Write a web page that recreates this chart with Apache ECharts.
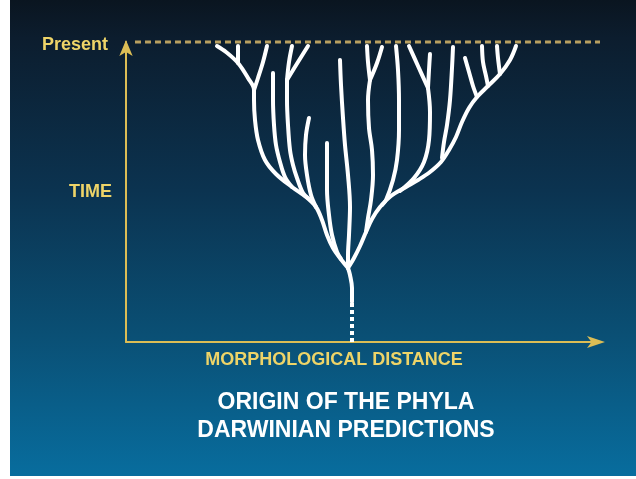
<!DOCTYPE html>
<html>
<head>
<meta charset="utf-8">
<script src="https://cdn.jsdelivr.net/npm/echarts@6/dist/echarts.min.js"></script>
<style>
  html, body { margin: 0; padding: 0; background: #fff; }
  #chart { position: absolute; left: 10px; top: 0; width: 626px; height: 476px; }
</style>
</head>
<body>
<div id="chart"></div>
<script>
// time axis ticks (0 = origin, 300 = present)
const timeTicks = [0, 150, 300];
const timeLabels = ['', 'TIME', 'Present'];
const xName = 'MORPHOLOGICAL DISTANCE';
const titleLines = ['ORIGIN OF THE PHYLA', 'DARWINIAN PREDICTIONS'];

// present level, [distance, time]
const presentLine = [[9, 300], [474, 300]];

// the tree, branch by branch, [distance, time]
const trunkDotted = [[226, 0], [226, 40]];
const trunk = [[226, 40], [226, 54], [224, 67], [222, 74]];
const stemLeft = [[222, 74], [214, 84], [207, 94], [201, 107], [196, 122], [190, 135], [180, 145], [166, 155],
  [150, 168], [139, 182], [132, 202], [129, 222], [128, 242], [128, 252], [122, 264], [112, 279], [100, 290], [91, 296]];
const leftTip1 = [[112, 296], [112, 287], [112, 279]];
const leftTip2 = [[141, 296], [137, 280], [132, 264], [128, 252]];
const branchA = [[147, 269], [147, 242], [148, 217], [150, 197], [154, 180], [159, 165], [166, 155]];
const branchBtip1 = [[166, 296], [163, 280], [161, 262]];
const branchBtip2 = [[182, 296], [172, 280], [161, 262]];
const branchB = [[161, 262], [161, 242], [162, 217], [164, 192], [167, 177], [171, 164], [177, 149], [182, 144]];
const branchC = [[183, 224], [180, 207], [179, 187], [181, 167], [185, 147], [190, 135]];
const branchD = [[201, 199], [201, 177], [201, 152], [203, 127], [206, 107], [211, 90], [215, 83]];
const branchE = [[214, 282], [215, 257], [217, 224], [219, 197], [222, 167], [224, 135], [223, 107], [222, 87], [222, 74]];
const stemRight = [[222, 74], [228, 84], [234, 96], [240, 110], [246, 123], [254, 135], [265, 146], [280, 155],
  [292, 162], [304, 170], [315, 180], [323, 192], [330, 205], [336, 220], [343, 234], [351, 245], [362, 256],
  [374, 268], [384, 282], [390, 296]];
const branchFtip1 = [[241, 296], [242, 280], [244, 262]];
const branchFtip2 = [[256, 295], [251, 279], [244, 262]];
const branchF = [[244, 262], [242, 242], [243, 214], [246, 192], [247, 167], [245, 142], [242, 124], [240, 110]];
const branchH = [[270, 296], [272, 272], [273, 242], [273, 212], [271, 182], [267, 162], [260, 142], [256, 137]];
const branchGtip1 = [[283, 296], [292, 276], [302, 254]];
const branchGtip2 = [[304, 288], [303, 272], [302, 254]];
const branchG = [[302, 254], [304, 230], [303, 202], [298, 180], [288, 164], [274, 151]];
const branchI = [[327, 295], [326, 274], [324, 242], [321, 217], [318, 200], [316, 184]];
const branchJ = [[339, 284], [343, 270], [347, 256], [351, 245]];
const branchK = [[356, 296], [357, 280], [360, 266], [362, 256]];
const branchL = [[371, 296], [372, 284], [374, 268]];

const branches = [trunk, stemLeft, leftTip1, leftTip2, branchA, branchBtip1, branchBtip2, branchB,
  branchC, branchD, branchE, stemRight, branchFtip1, branchFtip2, branchF, branchH,
  branchGtip1, branchGtip2, branchG, branchI, branchJ, branchK, branchL];

const gold = '#eed468';
const font = "'Liberation Sans', Arial, sans-serif";

let chart = echarts.init(document.getElementById('chart'));

let series = branches.map(function (b) {
  return {
    type: 'line', data: b, smooth: 0.35, symbol: 'none', silent: true, clip: false,
    lineStyle: { color: '#ffffff', width: 4, cap: 'round', join: 'round' }
  };
});
series.push({
  type: 'line', data: trunkDotted, symbol: 'none', silent: true, clip: false,
  lineStyle: { color: '#ffffff', width: 4, type: [4, 3], cap: 'butt' }
});
series.push({
  type: 'line', data: presentLine, symbol: 'none', silent: true, clip: false,
  lineStyle: { color: '#b9a060', width: 3, type: [6, 4], cap: 'butt' }
});

let option = {
  animation: false,
  backgroundColor: {
    type: 'linear', x: 0, y: 0, x2: 0, y2: 1,
    colorStops: [
      { offset: 0, color: '#0a1520' },
      { offset: 0.08, color: '#0c1d2e' },
      { offset: 0.4, color: '#0b3350' },
      { offset: 0.7, color: '#0a4f74' },
      { offset: 1, color: '#086d9e' }
    ]
  },
  title: {
    text: titleLines.join('\n'),
    left: 331, top: 384, textAlign: 'center',
    textStyle: { color: '#ffffff', fontSize: 23, fontWeight: 'bold', lineHeight: 28, fontFamily: font }
  },
  grid: { left: 116, top: 42, width: 472, height: 300 },
  xAxis: {
    type: 'value', min: 0, max: 472,
    name: xName, nameLocation: 'middle', nameGap: 9,
    nameTextStyle: { color: gold, fontSize: 18, fontWeight: 'bold', fontFamily: font, padding: [0, 56, 0, 0] },
    axisLine: { show: true, symbol: ['none', 'arrow'], symbolSize: [9, 18], symbolOffset: [0, 7],
      lineStyle: { color: '#dcbd55', width: 2 } },
    axisTick: { show: false }, axisLabel: { show: false }, splitLine: { show: false }
  },
  yAxis: {
    type: 'value', min: timeTicks[0], max: timeTicks[2], interval: timeTicks[1] - timeTicks[0],
    axisLine: { show: true, symbol: ['none', 'arrow'], symbolSize: [10, 16], symbolOffset: [0, 2],
      lineStyle: { color: '#dcbd55', width: 2 } },
    axisTick: { show: false }, splitLine: { show: false },
    axisLabel: {
      margin: 14, color: gold, fontSize: 18, fontWeight: 'bold', fontFamily: font,
      formatter: function (v) {
        let i = timeTicks.indexOf(v);
        let s = i < 0 ? '' : timeLabels[i];
        return v === timeTicks[2] ? '{p|' + s + '}' : s;
      },
      rich: { p: { color: gold, fontSize: 18, fontWeight: 'bold', fontFamily: font, padding: [6, 4, 0, 0] } }
    }
  },
  series: series
};
chart.setOption(option, true);
</script>
</body>
</html>
